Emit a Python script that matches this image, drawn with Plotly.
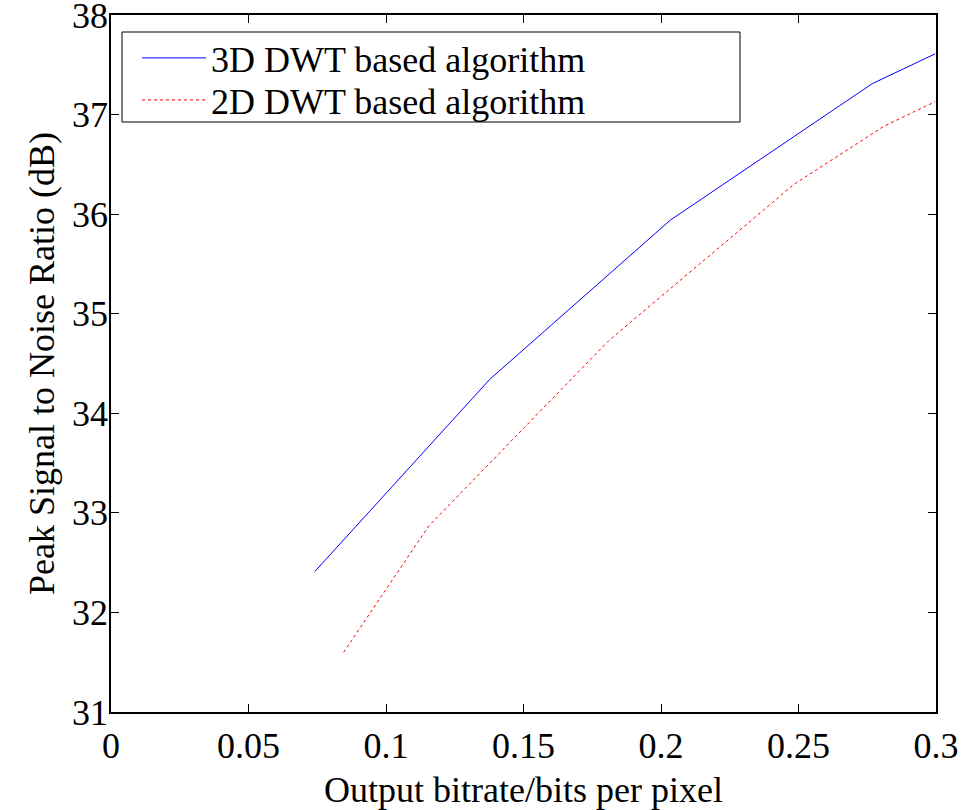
import plotly.graph_objects as go

bitrate_3d = [0.0741, 0.1377, 0.2034, 0.2768, 0.2997]
psnr_3d = [32.41, 34.34, 35.94, 37.31, 37.61]
bitrate_2d = [0.0846, 0.1156, 0.1810, 0.2484, 0.2809, 0.2997]
psnr_2d = [31.60, 32.87, 34.73, 36.30, 36.88, 37.13]
series_names = ["3D DWT based algorithm", "2D DWT based algorithm"]
x_ticks = [0, 0.05, 0.1, 0.15, 0.2, 0.25, 0.3]
x_tick_labels = ["0", "0.05", "0.1", "0.15", "0.2", "0.25", "0.3"]
y_ticks = [31, 32, 33, 34, 35, 36, 37, 38]
y_tick_labels = ["31", "32", "33", "34", "35", "36", "37", "38"]

FONT = "Liberation Serif"
FS = 36

W, H = 976, 810
L, T, R, B = 111, 15, 40, 98
PW, PH = W - L - R, H - T - B

def px(xs):
    return (xs - L) / PW

def py(ys):
    return (H - B - ys) / PH

fig = go.Figure()
fig.add_trace(go.Scatter(x=bitrate_3d, y=psnr_3d, mode="lines", name=series_names[0],
                         line=dict(color="#0000ff", width=1), legend="legend"))
fig.add_trace(go.Scatter(x=bitrate_2d, y=psnr_2d, mode="lines", name=series_names[1],
                         line=dict(color="#ff0000", width=1, dash="dot"), legend="legend2"))

axis_common = dict(showline=True, linecolor="black", linewidth=1.5, mirror="ticks",
                   ticks="inside", ticklen=8, tickcolor="black", tickwidth=1,
                   showgrid=False, zeroline=False, automargin=False,
                   ticklabeloverflow="allow",
                   tickfont=dict(family=FONT, size=FS, color="black"))

fig.update_xaxes(range=[0, 0.3], tickvals=x_ticks, ticktext=x_tick_labels, ticklabelstandoff=1,
                 title=dict(text="Output bitrate/bits per pixel", font=dict(family=FONT, size=FS, color="black"), standoff=12),
                 **axis_common)
fig.update_yaxes(range=[31, 38], tickvals=y_ticks, ticktext=y_tick_labels, ticklabelstandoff=-6,
                 title=dict(text="Peak Signal to Noise Ratio (dB)", font=dict(family=FONT, size=FS, color="black"), standoff=6),
                 **axis_common)

legend_common = dict(xanchor="left", yanchor="middle", bgcolor="rgba(0,0,0,0)", borderwidth=0,
                     font=dict(family=FONT, size=FS, color="black"), itemwidth=64)

fig.update_layout(
    width=W, height=H,
    margin=dict(l=L, r=R, t=T, b=B, autoexpand=False),
    plot_bgcolor="white", paper_bgcolor="white",
    font=dict(family=FONT, size=FS, color="black"),
    showlegend=True,
    legend=dict(x=px(137), y=py(58), **legend_common),
    legend2=dict(x=px(137), y=py(100), **legend_common),
    shapes=[dict(type="rect", xref="paper", yref="paper",
                 x0=px(122), x1=px(740), y0=py(122), y1=py(32),
                 line=dict(color="black", width=1), fillcolor="white", layer="below")],
)

fig.write_html("out.html", config={"displayModeBar": False},
               post_script="document.body.style.margin='0';")
